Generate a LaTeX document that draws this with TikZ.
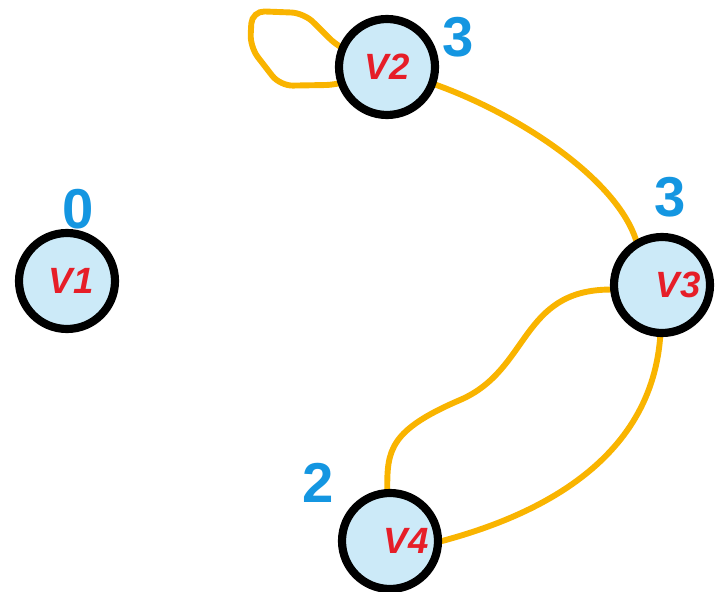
\documentclass[tikz,border=0pt]{standalone}
\usepackage{fontspec}
\setmainfont{Liberation Sans}
\usetikzlibrary{backgrounds}
\definecolor{edgeorange}{RGB}{249,180,0}
\definecolor{degblue}{RGB}{20,150,225}
\definecolor{namered}{RGB}{230,30,40}
\definecolor{vfill}{RGB}{204,234,248}
\begin{document}
\begin{tikzpicture}[
        vertex/.style={circle,draw=black,line width=5.8pt,fill=vfill,
            minimum size=2.4cm,inner sep=0pt},
        vname/.style={text=namered,font=\fontsize{26}{26}\selectfont\bfseries\itshape},
        deg/.style={text=degblue,font=\fontsize{40}{40}\selectfont\bfseries},
        edge/.style={draw=edgeorange,line width=4.2pt,line cap=round}]

\useasboundingbox (0,0) rectangle (18.1,14.775);

% vertices
\node[vertex,label={[vname,xshift=1mm]center:V1}] (v1) at (1.675,7.75) {};
\node[vertex,label={[vname]center:V2}] (v2) at (9.675,13.1) {};
\node[vertex,label={[vname,xshift=4mm]center:V3}] (v3) at (16.55,7.65) {};
\node[vertex,label={[vname,xshift=4mm]center:V4}] (v4) at (9.75,1.25) {};

% degrees
\node[deg] (d1) at (1.95,9.55) {0};
\node[deg] (d2) at (11.45,13.85) {3};
\node[deg] (d3) at (16.75,9.85) {3};
\node[deg] (d4) at (7.95,2.7) {2};

% edges, under the vertices
\begin{pgfonlayer}{background}
\draw[edge,rounded corners=9pt] (v2.center) -- (v2.200) -- (7.0,12.63) -- (6.25,13.6)
    -- (6.3,14.5) -- (7.6,14.45) -- (v2.158) -- (v2.center);
\draw[edge] (v2.-20) .. controls (13.0,11.9) and (15.4,10.3) .. (v3.120);
\draw[edge] (v3.185) .. controls (13.0,7.525) and (13.25,5.525) .. (11.5,4.775)
    .. controls (9.75,4.025) and (9.675,3.525) .. (v4.93);
\draw[edge] (v3.268) .. controls (16.25,3.025) and (13.0,1.775) .. (v4.0);
\end{pgfonlayer}
\end{tikzpicture}
\end{document}
